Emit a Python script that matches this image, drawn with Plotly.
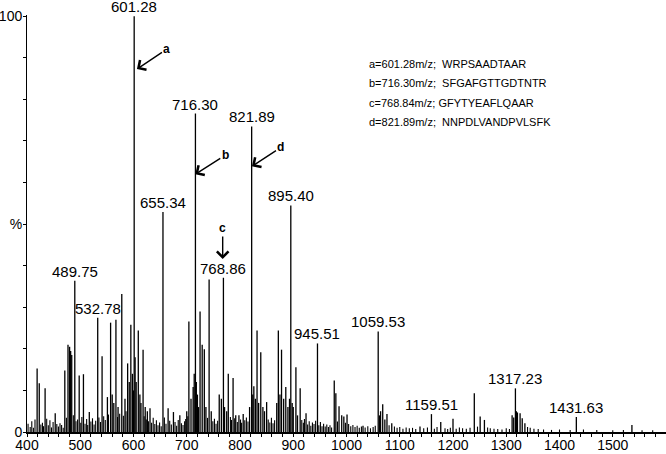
import plotly.graph_objects as go

# ---- labelled / main peaks (m/z, relative intensity %) ----
peak_mz = [419, 423, 434, 453, 471, 477, 480, 482, 484, 489.75, 498, 506, 517,
           532.78, 541, 551, 557, 560, 563, 567, 571, 578, 584, 589, 592, 595, 598,
           600, 601.28, 603, 605, 609, 612, 614, 618, 622, 626, 631, 655.34, 665,
           675, 687, 700, 704, 708, 712, 714, 716.30, 718, 720, 722, 725, 729, 733,
           736, 742, 746, 761, 765, 768.86, 771, 775, 778, 787, 792, 798, 806, 818,
           821.89, 824, 826, 829, 832, 835, 839, 843, 846, 850, 869, 872, 875, 878,
           882, 886, 890, 893, 895.40, 898, 900, 905, 908, 913, 924, 945.51, 977,
           980, 986, 991, 995, 1001, 1031, 1059.53, 1062, 1064, 1068, 1072, 1076,
           1085, 1138, 1159.51, 1177, 1200, 1240, 1251, 1259, 1311, 1314, 1317.23,
           1319, 1321, 1326, 1330, 1335, 1431.63, 1536]
peak_int = [15.3, 11.7, 10.5, 4.5, 14.8, 21.0, 20.5, 19.5, 18.5, 36.4, 13.6, 13.9, 4.8,
            27.5, 18.2, 8.4, 26.3, 9.0, 7.0, 27.0, 6.0, 33.2, 8.0, 16.5, 12.0, 25.8, 14.0,
            10.0, 100.0, 18.0, 12.0, 24.4, 9.0, 7.0, 19.8, 6.0, 5.0, 5.7, 52.9, 5.7,
            4.8, 4.0, 5.0, 26.6, 8.0, 10.8, 14.0, 76.6, 12.0, 9.0, 6.0, 29.0, 21.0, 19.9,
            6.0, 36.7, 5.0, 9.0, 8.0, 37.1, 6.0, 5.0, 14.0, 13.0, 4.0, 4.0, 4.3, 6.0,
            73.5, 9.0, 11.0, 8.0, 24.4, 7.0, 19.2, 6.0, 5.0, 7.2, 7.0, 24.4, 9.0, 19.8,
            8.0, 10.8, 6.0, 8.0, 54.5, 7.0, 6.0, 15.6, 4.0, 10.5, 4.5, 21.3, 12.4,
            9.3, 6.2, 4.0, 3.7, 4.2, 1.5, 24.2, 4.0, 5.0, 6.7, 3.0, 4.3,
            2.1, 1.3, 4.3, 2.4, 3.2, 9.3, 3.7, 2.9, 4.0, 3.5, 10.5,
            5.0, 4.7, 4.5, 3.3, 2.1, 3.6, 1.7]

# ---- low-level noise peaks ----
noise_mz = [402, 406, 409, 412, 415, 426, 429, 431, 437, 440, 443, 446, 449, 456, 459,
            462, 465, 468, 474, 487, 492, 495, 501, 503, 509, 512, 514, 520, 523, 526,
            529, 535, 538, 544, 547, 553, 570, 574, 581, 586, 620, 624, 628, 634, 637,
            640, 643, 646, 649, 652, 658, 661, 668, 671, 678, 681, 684, 690, 693, 696,
            698, 702, 739, 749, 752, 755, 758, 782, 784, 790, 795, 801, 803, 809, 812,
            815, 853, 856, 859, 862, 865, 916, 919, 921, 927, 930, 933, 936, 939, 942,
            948, 951, 954, 957, 960, 963, 966, 969, 972, 983, 998, 1004, 1008, 1012,
            1016, 1020, 1024, 1028, 1035, 1040, 1045, 1050, 1054, 1080, 1090, 1095,
            1100, 1106, 1112, 1118, 1124, 1130, 1145, 1152, 1165, 1170, 1185, 1190,
            1195, 1206, 1212, 1218, 1225, 1232, 1246, 1265, 1270, 1277, 1284, 1292,
            1300, 1306, 1340, 1345, 1352, 1360, 1370, 1385, 1400, 1420, 1445, 1470,
            1500, 1520, 1555, 1575]
noise_int = [2.0, 1.2, 2.6, 1.0, 3.0, 1.8, 2.2, 1.4, 3.2, 1.6, 2.8, 1.1, 2.4, 1.9, 1.3,
             2.1, 1.7, 1.0, 3.4, 4.0, 2.6, 3.0, 2.2, 3.6, 2.0, 3.1, 1.7, 2.5, 3.3, 1.8,
             2.7, 3.5, 2.4, 3.8, 2.9, 4.2, 3.6, 4.4, 3.9, 5.0, 3.8, 3.0, 2.6, 2.2, 3.4,
             1.9, 2.8, 1.6, 2.3, 1.4, 3.5, 2.0, 2.7, 1.8, 2.4, 1.5, 2.9, 2.1, 1.7, 2.6,
             3.1, 3.8, 3.4, 2.6, 3.2, 2.0, 2.7, 3.6, 2.9, 3.3, 2.4, 3.0, 2.2, 2.8, 3.5,
             2.5, 3.0, 2.3, 3.4, 2.1, 2.8, 2.9, 2.2, 3.1, 1.8, 2.6, 1.5, 2.3, 1.9, 2.7,
             1.6, 2.4, 1.4, 2.0, 1.3, 1.8, 1.2, 1.6, 1.1, 2.5, 2.2, 1.9, 1.4, 1.7, 1.2,
             1.5, 1.0, 1.3, 1.1, 1.4, 0.9, 1.2, 1.5, 1.6, 1.3, 1.0, 1.2, 0.8, 1.1, 0.9,
             1.0, 0.7, 0.9, 1.1, 0.8, 1.2, 0.9, 0.7, 1.0, 0.8, 1.1, 0.9, 0.8, 1.0, 1.3,
             1.1, 0.9, 0.8, 0.7, 0.6, 0.9, 0.7, 1.2, 1.0, 0.8, 0.7, 0.6, 0.5, 0.6, 0.5,
             0.6, 0.5, 0.4, 0.5, 0.4, 0.4]

# ---- peak labels ----
label_mz = [489.75, 532.78, 601.28, 655.34, 716.30, 768.86, 821.89, 895.40,
            945.51, 1059.53, 1159.51, 1317.23, 1431.63]
label_int = [36.4, 27.5, 100.0, 52.9, 76.6, 37.1, 73.5, 54.5, 21.3, 24.2, 4.3, 10.5, 3.6]

# ---- arrows (letter, head m/z, head %, dx px, dy px) ----
arrow_letters = ["a", "b", "c", "d"]
arrow_x = [606.5, 716.0, 767.5, 822.5]
arrow_y = [87.3, 62.0, 41.6, 63.9]
arrow_dx = [30, 30, 0, 29]
arrow_dy = [-20, -19, -31, -19]

# ---- key text ----
key_lines = ["a=601.28m/z;\u00a0\u00a0WRPSAADTAAR",
             "b=716.30m/z;\u00a0\u00a0SFGAFGTTGDTNTR",
             "c=768.84m/z;\u00a0GFYTYEAFLQAAR",
             "d=821.89m/z;\u00a0\u00a0NNPDLVANDPVLSFK"]

x_ticks = [400, 500, 600, 700, 800, 900, 1000, 1100, 1200, 1300, 1400, 1500]
y_ticks = [0, 10, 20, 30, 40, 50, 60, 70, 80, 90, 100]
y_ticktext = ["0", "", "", "", "", "%", "", "", "", "", "100"]

FONT = "Liberation Sans, Arial, sans-serif"

def sticks(mz, inten):
    xs, ys = [], []
    for m, h in zip(mz, inten):
        xs += [m, m, None]
        ys += [0, h, None]
    return xs, ys

fig = go.Figure()
nx, ny = sticks(noise_mz, noise_int)
fig.add_trace(go.Scatter(x=nx, y=ny, mode="lines",
                         line=dict(color="black", width=1.1), hoverinfo="skip"))
px_, py_ = sticks(peak_mz, peak_int)
fig.add_trace(go.Scatter(x=px_, y=py_, mode="lines",
                         line=dict(color="black", width=1.3), hoverinfo="skip"))

annotations = []
for m, h in zip(label_mz, label_int):
    annotations.append(dict(x=m, y=h, xref="x", yref="y", text=f"{m:.2f}",
                            showarrow=False, yanchor="bottom", xanchor="center",
                            yshift=0, borderpad=0,
                            font=dict(family=FONT, size=15, color="black")))
for L, x, y, dx, dy in zip(arrow_letters, arrow_x, arrow_y, arrow_dx, arrow_dy):
    annotations.append(dict(x=x, y=y, xref="x", yref="y", text=f"<b>{L}</b>",
                            showarrow=True, ax=dx, ay=dy, arrowhead=4, arrowsize=1.6,
                            arrowwidth=1.4, arrowcolor="black", standoff=0,
                            font=dict(family=FONT, size=12, color="black")))
for i, t in enumerate(key_lines):
    annotations.append(dict(x=0.532, y=0.883 - i * 0.0465, xref="paper", yref="paper",
                            text=t, showarrow=False, xanchor="left", yanchor="middle",
                            font=dict(family=FONT, size=11, color="black")))

fig.update_layout(
    width=666, height=454,
    margin=dict(l=27, r=0, t=15, b=22),
    plot_bgcolor="white", paper_bgcolor="white",
    showlegend=False,
    font=dict(family=FONT, size=15, color="black"),
    annotations=annotations,
    xaxis=dict(range=[400, 1600], tickvals=x_ticks, showgrid=False, zeroline=False,
               automargin=False,
               showline=True, linecolor="black", linewidth=2,
               ticks="outside", ticklen=3, tickwidth=1, tickcolor="black",
               ticklabelstandoff=-4,
               tickfont=dict(family=FONT, size=14, color="black"),
               minor=dict(dtick=20, tick0=400, ticks="outside", ticklen=2.5,
                          tickcolor="black", tickwidth=1)),
    yaxis=dict(range=[0, 100.3], tickvals=y_ticks, ticktext=y_ticktext,
               automargin=False,
               showgrid=False, zeroline=False, showline=True, linecolor="black",
               linewidth=1, ticks="outside", ticklen=3, tickwidth=1, tickcolor="black",
               ticklabelstandoff=-2,
               tickfont=dict(family=FONT, size=14, color="black")),
)

fig.write_html("out.html",
               config={"displayModeBar": False},
               post_script="document.body.style.margin='0px';"
                           "document.body.style.overflow='hidden';")
